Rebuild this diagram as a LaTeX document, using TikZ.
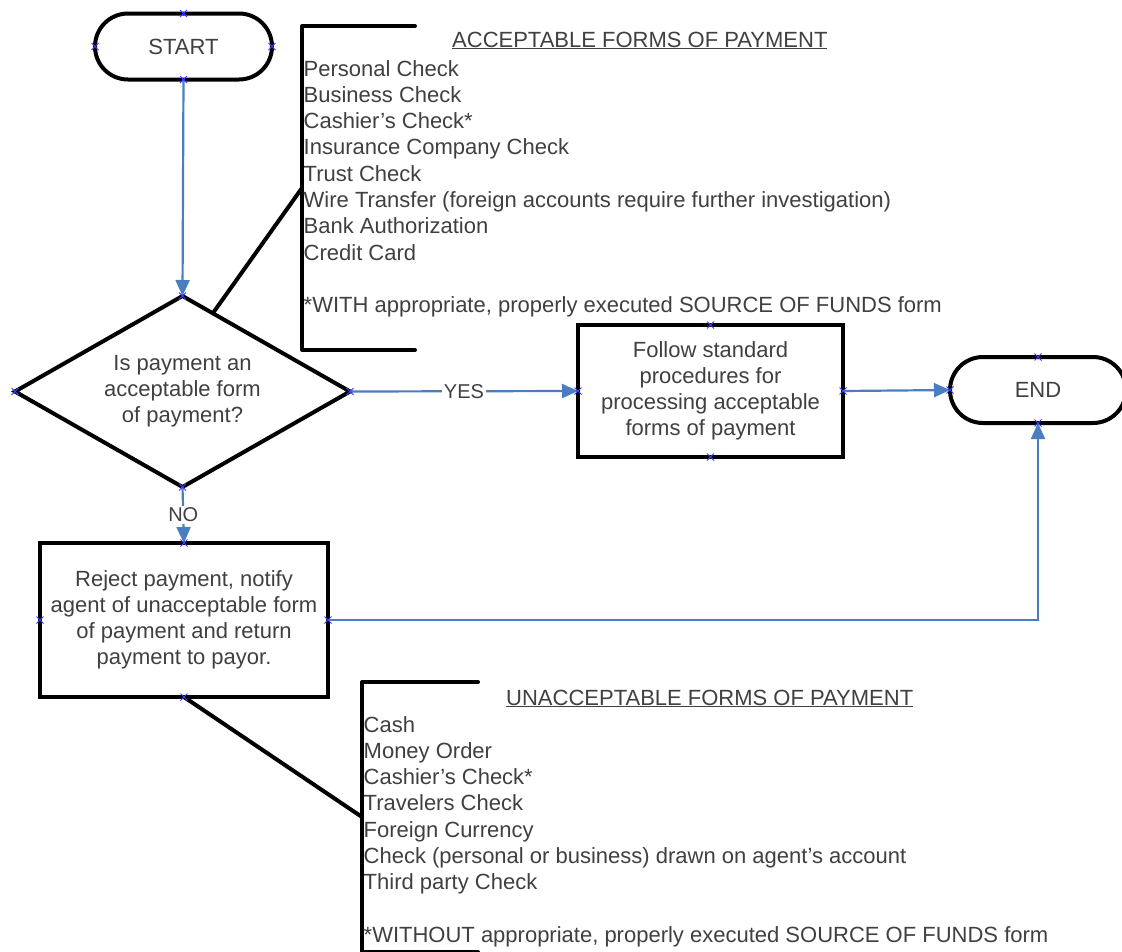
\documentclass[tikz,border=0pt]{standalone}
\usepackage{fontspec}
\setmainfont{Liberation Sans}
\usetikzlibrary{arrows.meta,shapes.geometric}
\definecolor{flowblue}{RGB}{74,126,193}
\definecolor{ink}{RGB}{64,64,64}
\definecolor{cpblue}{RGB}{60,60,255}

% small blue cross at a connection point
\newcommand\cpmark[1]{\draw[cpx] (#1) +(-3.5,-3.5) -- +(3.5,3.5) +(-3.5,3.5) -- +(3.5,-3.5);}

\begin{document}
\begin{tikzpicture}[x=1pt,y=-1pt,
  term/.style={draw=black,line width=4pt,rounded corners=33pt,minimum width=177pt,
    minimum height=66pt,inner sep=0pt,outer sep=0pt,text=ink,font=\fontsize{22}{26}\selectfont},
  proc/.style={draw=black,line width=4pt,inner sep=0pt,outer sep=0pt,align=center,text=ink,
    font=\fontsize{22}{26}\selectfont},
  decision/.style={draw=black,line width=4pt,diamond,shape aspect=1.75,inner sep=0pt,
    outer sep=0pt,minimum width=335pt,minimum height=191pt,align=center,text=ink,
    font=\fontsize{22}{26}\selectfont},
  flow/.style={draw=flowblue,line width=2.2pt,-{Triangle[length=16pt,width=14pt]}},
  bracket/.style={draw=black,line width=4pt,line cap=round,line join=round},
  lead/.style={draw=black,line width=4pt},
  listtxt/.style={anchor=base west,inner sep=0pt,text=ink,font=\fontsize{22}{26}\selectfont},
  lbl/.style={fill=white,inner sep=1.5pt,text=ink,font=\fontsize{20}{24}\selectfont},
  cpx/.style={draw=cpblue,line width=0.9pt}
]
\fill[white] (0,0) rectangle (1122,951);
\useasboundingbox (0,0) rectangle (1122,951);
\clip (0,0) rectangle (1122,951);

% flowchart shapes
\node[term] (start) at (183.5,46.5) {START};
\node[decision] (dec) at (182.5,391.5) {Is payment an\\acceptable form\\of payment?};
\node[proc,minimum width=265pt,minimum height=132pt] (std) at (710.5,391)
  {Follow standard\\procedures for\\processing acceptable\\forms of payment};
\node[term,minimum width=176pt] (endt) at (1038,390) {END};
\node[proc,minimum width=288pt,minimum height=154pt] (rej) at (184,620)
  {Reject payment, notify\\agent of unacceptable form\\of payment and return\\payment to payor.};

% flow connectors
\draw[flow] (start.south) -- (dec.north);
\draw[flow] (dec.east) -- node[lbl] (yeslbl) {YES} (std.west);
\draw[flow] (std.east) -- (endt.west);
\draw[flow] (dec.south) -- node[lbl] (nolbl) {NO} (rej.north);
\draw[flow] (rej.east) -| (endt.south);

% annotation: acceptable forms
\coordinate (accfoot) at (213,313);
\coordinate (accbr) at (302,188);
\draw[lead] (accfoot) -- (accbr);
\draw[bracket] (415,26) -- (302,26) -- (302,350) -- (415,350);
\node[listtxt] (acchead) at (452,47) {\underline{ACCEPTABLE FORMS OF PAYMENT}};
\foreach \t [count=\i from 0] in {Personal Check, Business Check, Cashier's Check*,
  Insurance Company Check, Trust Check,
  Wire Transfer (foreign accounts require further investigation),
  Bank Authorization, Credit Card}
  \node[listtxt] (acc\i) at (303.5,{76+26.3*\i}) {\t};
\node[listtxt] (accnote) at (303.5,312.5) {*WITH appropriate, properly executed SOURCE OF FUNDS form};

% annotation: unacceptable forms
\coordinate (unaccbr) at (362,817);
\draw[lead] (rej.south) -- (unaccbr);
\draw[bracket] (478,682) -- (362,682) -- (362,952) -- (478,952);
\node[listtxt] (unacchead) at (506,705) {\underline{UNACCEPTABLE FORMS OF PAYMENT}};
\foreach \t [count=\i from 0] in {Cash, Money Order, Cashier's Check*, Travelers Check,
  Foreign Currency, Check (personal or business) drawn on agent's account,
  Third party Check}
  \node[listtxt] (unacc\i) at (363.5,{732+26.3*\i}) {\t};
\node[listtxt] (unaccnote) at (363.5,942) {*WITHOUT appropriate, properly executed SOURCE OF FUNDS form};

% connection point markers
\foreach \n in {start,dec,std,endt,rej}
  \foreach \a in {north,south,east,west}
    {\cpmark{\n.\a}}
\end{tikzpicture}
\end{document}
